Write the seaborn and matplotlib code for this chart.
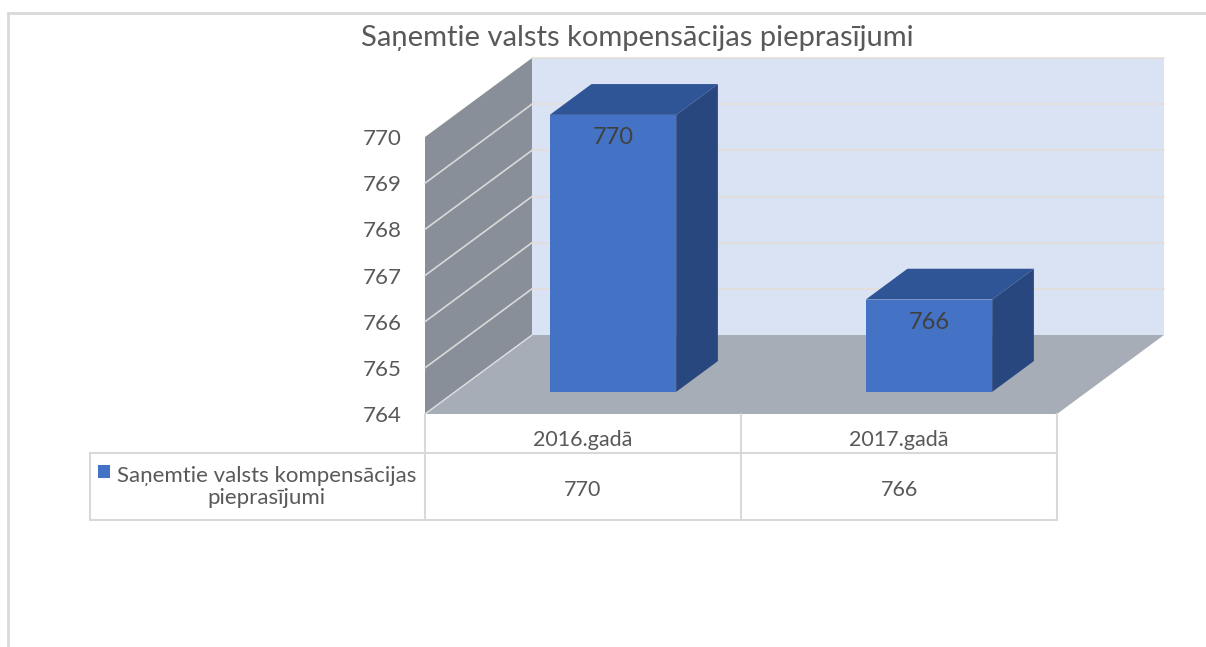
import matplotlib
matplotlib.use("Agg")
import matplotlib.pyplot as plt
import matplotlib.transforms as mtransforms
from matplotlib.patches import Polygon, Rectangle
from matplotlib.lines import Line2D
import seaborn as sns

# Data
TITLE = "Saņemtie valsts kompensācijas pieprasījumi"
SERIES_NAME = "Saņemtie valsts kompensācijas\npieprasījumi"
categories = ["2016.gadā", "2017.gadā"]
values = [770, 766]
y_ticks = [764, 765, 766, 767, 768, 769, 770]

# Colours
TEXT = "#595959"
BAR_FRONT = "#4472C4"
BAR_TOP = "#2F5597"
BAR_SIDE = "#29477F"
LEFT_WALL = "#898F99"
BACK_WALL = "#DAE3F3"
FLOOR = "#A6ADB7"
GRID_BACK = "#E4DED7"
GRID_LEFT = "#D9D9D9"
TABLE_LINE = "#D9D9D9"

sns.set_theme(style="white")
plt.rcParams["font.family"] = ["Lato", "DejaVu Sans"]

W, H = 1206, 647
fig = plt.figure(figsize=(W / 100, H / 100), dpi=100)


def fx(px):
    return px / W


def fy(py):
    return (H - py) / H


# front plane of the 3d box: x 425..1057 px, y 137..414 px
FL, FR, FT, FB = 425, 1057, 137, 414
ax = fig.add_axes([fx(FL), fy(FB), fx(FR - FL), (FB - FT) / H])
ax.set_xlim(-0.5, len(categories) - 0.5)
ax.set_ylim(y_ticks[0], y_ticks[-1])
for s in ax.spines.values():
    s.set_visible(False)
ax.set_facecolor("none")
ax.set_xticks([])
ax.set_yticks(y_ticks)
ax.tick_params(axis="y", length=0, pad=17, labelsize=16, labelcolor=TEXT)

# depth offset of the box in data units (107 px right, 79 px up)
unit_x = (FR - FL) / len(categories)
unit_y = (FB - FT) / (y_ticks[-1] - y_ticks[0])
DX = 107 / unit_x
DY = 79 / unit_y
x0, x1 = ax.get_xlim()
y0, y1 = ax.get_ylim()

# back wall
ax.add_patch(Polygon([(x0 + DX, y0 + DY), (x1 + DX, y0 + DY), (x1 + DX, y1 + DY),
                      (x0 + DX, y1 + DY)], closed=True, facecolor=BACK_WALL,
                     edgecolor="none", clip_on=False, zorder=1))
for v in y_ticks[1:]:
    ax.add_line(Line2D([x0 + DX, x1 + DX], [v + DY, v + DY], color=GRID_BACK,
                       lw=1.2, clip_on=False, zorder=2))
# left wall
ax.add_patch(Polygon([(x0, y0), (x0 + DX, y0 + DY), (x0 + DX, y1 + DY), (x0, y1)],
                     closed=True, facecolor=LEFT_WALL, edgecolor="none",
                     clip_on=False, zorder=1))
for v in y_ticks[1:-1]:
    ax.add_line(Line2D([x0, x0 + DX], [v, v + DY], color=GRID_LEFT, lw=1.2,
                       clip_on=False, zorder=2))
# floor
ax.add_patch(Polygon([(x0, y0), (x1, y0), (x1 + DX, y0 + DY), (x0 + DX, y0 + DY)],
                     closed=True, facecolor=FLOOR, edgecolor="none",
                     clip_on=False, zorder=1))
ax.add_line(Line2D([x0, x0 + DX], [y0, y0 + DY], color="#E0E0E0", lw=1.0,
                   clip_on=False, zorder=2))

# bars sit a bit inside the box
FRONT_DEPTH = 0.28
BAR_DEPTH = 0.39
bax = fig.add_axes([fx(FL + FRONT_DEPTH * 107), fy(FB - FRONT_DEPTH * 79),
                    fx(FR - FL), (FB - FT) / H])
sns.barplot(x=categories, y=values, width=0.4, color=BAR_FRONT, saturation=1,
            edgecolor="none", linewidth=0, ax=bax, zorder=3)
bax.set_xlim(x0, x1)
bax.set_ylim(y0, y1)
bax.axis("off")
bdx, bdy = BAR_DEPTH * DX, BAR_DEPTH * DY
for p in bax.patches[:len(values)]:
    bx, bw, h = p.get_x(), p.get_width(), p.get_height()
    p.set_clip_on(False)
    p.set_bounds(bx, y0, bw, h - y0)
    bax.add_patch(Polygon([(bx, h), (bx + bw, h), (bx + bw + bdx, h + bdy),
                           (bx + bdx, h + bdy)], closed=True, facecolor=BAR_TOP,
                          edgecolor="none", clip_on=False, zorder=3))
    bax.add_patch(Polygon([(bx + bw, y0), (bx + bw + bdx, y0 + bdy),
                           (bx + bw + bdx, h + bdy), (bx + bw, h)], closed=True,
                          facecolor=BAR_SIDE, edgecolor="none", clip_on=False,
                          zorder=3))
    bax.text(bx + bw / 2, h - 0.5, f"{h:.0f}", ha="center", va="center",
             fontsize=17, color="#404040", zorder=4)

# title
fig.text(fx(637), fy(38), TITLE, ha="center", va="center", fontsize=21, color=TEXT)

# data table below the box
tr = mtransforms.blended_transform_factory(ax.transData, fig.transFigure)
edges = [x0 + i for i in range(len(categories) + 1)]
ROW_TOP, ROW_MID, ROW_BOT = 414, 453, 520
for e in edges:
    fig.add_artist(Line2D([e, e], [fy(ROW_TOP), fy(ROW_BOT)], transform=tr,
                          color=TABLE_LINE, lw=1.5))
fig.add_artist(Line2D([fx(90), fx(90)], [fy(ROW_MID), fy(ROW_BOT)],
                      color=TABLE_LINE, lw=1.5))
for r in (ROW_MID, ROW_BOT):
    fig.add_artist(Line2D([fx(90), fx(FR)], [fy(r), fy(r)], color=TABLE_LINE, lw=1.5))
for i, (cat, val) in enumerate(zip(categories, values)):
    fig.text(i, fy(440), cat, transform=tr, ha="center", va="center",
             fontsize=15.5, color=TEXT)
    fig.text(i, fy(490), f"{val}", transform=tr, ha="center", va="center",
             fontsize=15.5, color=TEXT)
fig.add_artist(Rectangle((fx(98), fy(478)), fx(12), 13 / H, facecolor=BAR_FRONT,
                         edgecolor="none"))
fig.text(fx(416), fy(487), SERIES_NAME, ha="right", va="center",
         multialignment="center", fontsize=16, color=TEXT, linespacing=1.15)

# chart area border
fig.add_artist(Line2D([fx(8), fx(W)], [fy(13), fy(13)], color="#D9D9D9", lw=2))
fig.add_artist(Line2D([fx(8), fx(8)], [fy(13), fy(H)], color="#D9D9D9", lw=2))

fig.savefig("out.png", dpi=100)
